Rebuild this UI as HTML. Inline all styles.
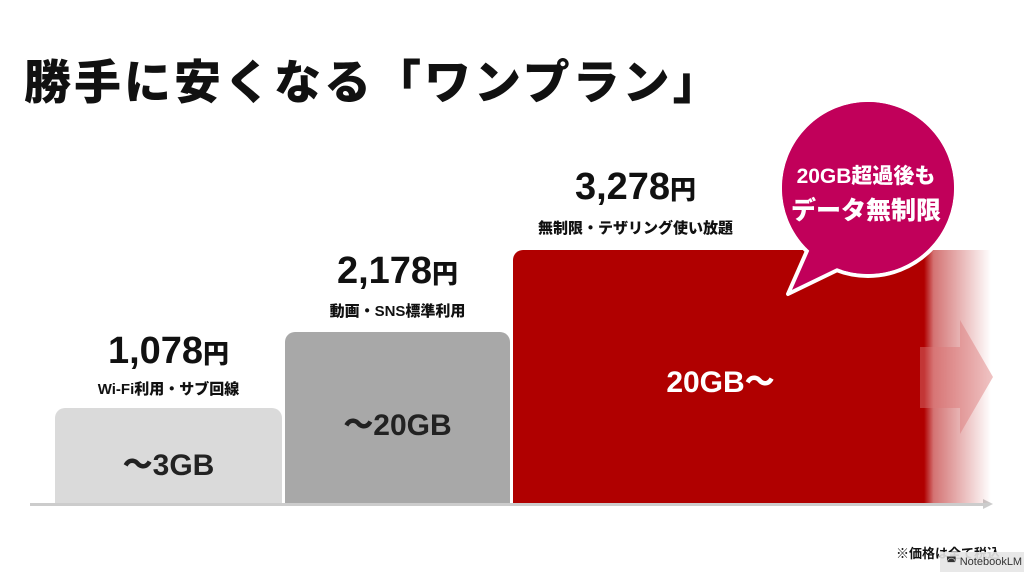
<!DOCTYPE html>
<html><head><meta charset="utf-8"><style>
body{margin:0;width:1024px;height:572px;background:#fff;position:relative;overflow:hidden;font-family:"Liberation Sans","Noto Sans CJK JP",sans-serif;color:#111}
.a{position:absolute}
.t{font-weight:900;text-align:center}
</style></head><body>
<div class="a" style="left:24px;top:44px;font-size:47px;font-weight:900;letter-spacing:3px">勝手に安くなる「ワンプラン」</div>

<div class="a" style="left:30px;top:503px;width:955px;height:3px;background:#ccc"></div>
<div class="a" style="left:983px;top:499px;width:0;height:0;border-left:10px solid #ccc;border-top:5px solid transparent;border-bottom:5px solid transparent"></div>

<div class="a" style="left:55px;top:408px;width:227px;height:95px;background:#dadada;border-radius:10px 10px 0 0"></div>
<div class="a t" style="left:55px;top:440px;width:227px;font-size:30px;color:#222">～3GB</div>
<div class="a t" style="left:55px;top:330px;width:227px;font-size:38px">1,078<span style="font-size:26px">円</span></div>
<div class="a t" style="left:55px;top:378px;width:227px;font-size:15px">Wi-Fi利用・サブ回線</div>

<div class="a" style="left:285px;top:332px;width:225px;height:171px;background:#a8a8a8;border-radius:10px 10px 0 0"></div>
<div class="a t" style="left:285px;top:400px;width:225px;font-size:30px;color:#222">～20GB</div>
<div class="a t" style="left:285px;top:250px;width:225px;font-size:38px">2,178<span style="font-size:26px">円</span></div>
<div class="a t" style="left:285px;top:300px;width:225px;font-size:15px">動画・SNS標準利用</div>

<div class="a" style="left:513px;top:250px;width:478px;height:253px;border-radius:10px 0 0 0;background:linear-gradient(to right,#b00000 0%,#b00000 86%,rgba(176,0,0,0.55) 88%,rgba(176,0,0,0) 100%)"></div>
<svg class="a" style="left:920px;top:320px" width="80" height="115"><polygon points="0,27 40,27 40,0 73,57 40,114 40,88 0,88" fill="rgba(220,120,120,0.45)"/></svg>
<div class="a t" style="left:513px;top:357px;width:415px;font-size:30px;color:#fff">20GB～</div>
<div class="a t" style="left:513px;top:166px;width:245px;font-size:38px">3,278<span style="font-size:26px">円</span></div>
<div class="a t" style="left:513px;top:217px;width:245px;font-size:15px">無制限・テザリング使い放題</div>

<svg class="a" style="left:770px;top:94px" width="200" height="210">
<circle cx="98" cy="94" r="88" fill="#c1005a" stroke="#fff" stroke-width="4"/>
<polygon points="40,150 80,170 18,200" fill="#c1005a" stroke="#fff" stroke-width="4" stroke-linejoin="round"/>
<circle cx="98" cy="94" r="86" fill="#c1005a"/>
</svg>
<div class="a t" style="left:778px;top:160px;width:176px;font-size:21px;color:#fff;line-height:34px">20GB超過後も<br><span style="font-size:25px">データ無制限</span></div>

<div class="a" style="left:896px;top:543px;font-size:13px;font-weight:700">※価格は全て税込</div>
<div class="a" style="left:940px;top:552px;width:84px;height:20px;background:rgba(230,230,230,0.9);font-size:11px;line-height:20px;padding-left:6px;color:#333">◚ NotebookLM</div>
</body></html>
